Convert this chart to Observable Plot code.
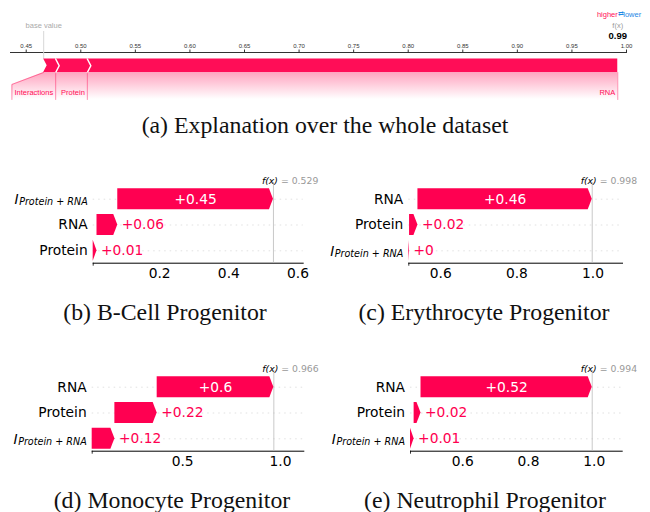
<!DOCTYPE html>
<html><head><meta charset="utf-8">
<script src="https://cdn.jsdelivr.net/npm/d3@7"></script>
<script src="https://cdn.jsdelivr.net/npm/@observablehq/plot@0.6"></script>
<style>
html,body{margin:0;padding:0;background:#fff}
body{width:650px;height:512px;position:relative;overflow:hidden}
.abs{position:absolute}
.cap{font-family:"Liberation Serif","Times New Roman",serif;font-size:23.8px;line-height:26px;color:#111;text-align:center;white-space:nowrap}
svg{overflow:visible}
</style>
</head><body>
<svg width="0" height="0" style="position:absolute">
  <defs>
    <linearGradient id="fgrad" x1="0" y1="0" x2="0" y2="1">
      <stop offset="0" stop-color="#ff0d57" stop-opacity="0.38"/>
      <stop offset="1" stop-color="#ff0d57" stop-opacity="0"/>
    </linearGradient>
  </defs>
</svg>
<div id="root"></div>
<script>
// ---------------- data ----------------
// (a) force plot over the whole dataset
const forceBase = 0.466;
const forceFeatures = ["Interactions", "Protein", "RNA"];
const forceValues = [0.011, 0.029, 0.486];
const forceTicks = [0.45, 0.50, 0.55, 0.60, 0.65, 0.70, 0.75, 0.80, 0.85, 0.90, 0.95, 1.00];

// (b)-(e) waterfall panels; features listed top to bottom
const panelTitles = ["(b) B-Cell Progenitor", "(c) Erythrocyte Progenitor", "(d) Monocyte Progenitor", "(e) Neutrophil Progenitor"];
const panelFx = [0.529, 0.998, 0.966, 0.994];
const featuresB = ["I", "RNA", "Protein"];
const contribB = [0.450, 0.060, 0.011];
const featuresC = ["RNA", "Protein", "I"];
const contribC = [0.458, 0.022, 0.002];
const featuresD = ["RNA", "Protein", "I"];
const contribD = [0.596, 0.216, 0.116];
const featuresE = ["RNA", "Protein", "I"];
const contribE = [0.521, 0.021, 0.011];
const panelTicks = [[0.2, 0.4, 0.6], [0.6, 0.8, 1.0], [0.5, 1.0], [0.6, 0.8, 1.0]];
const interactionSub = "Protein + RNA";

// ---------------- layout / style ----------------
const root = document.getElementById("root");
const ctx = document.createElement("canvas").getContext("2d");
function measure(t, font) { ctx.font = font; return ctx.measureText(t).width; }
function place(el, left, top) { el.classList.add("abs"); el.style.left = left + "px"; el.style.top = top + "px"; root.appendChild(el); }
function caption(text, center, midY) {
  const d = document.createElement("div"); d.className = "cap"; d.textContent = text;
  d.style.width = "400px"; place(d, center - 200, midY - 13);
}

// ---------------- (a) force plot ----------------
{
  const W = 650, H = 105, ML = 10, MR = 24;
  const xDom = [0.4356, 1.0];
  const ppu = (W - ML - MR) / (xDom[1] - xDom[0]);
  const TOP = 58.5, MID = 65.25, BOT = 72, LBL_KNEE = 84, LBL_BOT = 99, LBL_Y = 92;
  const CHEV = 3.5 / ppu;
  const fxA = forceBase + d3.sum(forceValues);
  let acc = forceBase;
  const segs = forceFeatures.map((f, i) => { const s = {feature: f, start: acc, end: acc + forceValues[i]}; acc += forceValues[i]; return s; });
  const LFONT = "7.5px 'Liberation Sans', Arial, sans-serif";
  const firstLeft = Math.min(segs[0].start, segs[0].end - (measure(segs[0].feature, LFONT) + 5) / ppu);

  const barPts = [
    {y: TOP, x1: forceBase, x2: fxA},
    {y: MID, x1: forceBase + CHEV, x2: fxA},
    {y: BOT, x1: forceBase, x2: fxA}
  ];
  const chevPts = segs.slice(0, -1).flatMap(s => [
    {k: s.feature, x: s.end, y: TOP}, {k: s.feature, x: s.end + CHEV, y: MID}, {k: s.feature, x: s.end, y: BOT}
  ]);
  const gradPts = [
    {y: BOT, x1: forceBase, x2: fxA},
    {y: LBL_KNEE, x1: firstLeft, x2: fxA},
    {y: LBL_BOT, x1: firstLeft, x2: fxA}
  ];
  const connPts = [
    {k: "first", x: forceBase, y: BOT}, {k: "first", x: firstLeft, y: LBL_KNEE}, {k: "first", x: firstLeft, y: LBL_BOT},
    ...segs.flatMap(s => [{k: s.feature, x: s.end, y: BOT}, {k: s.feature, x: s.end, y: LBL_BOT}])
  ];

  const p = Plot.plot({
    width: W, height: H, marginLeft: ML, marginRight: MR, marginTop: 52, marginBottom: 0,
    style: {fontFamily: "'Liberation Sans', Arial, sans-serif", fontSize: "6px", background: "transparent", color: "#333"},
    x: {domain: xDom, axis: "top", line: true, ticks: forceTicks, tickFormat: d3.format(".2f"), tickSize: 3.5, tickPadding: 1.5},
    y: {domain: [0, H], range: [0, H], axis: null},
    marks: [
      Plot.ruleX([forceBase], {x: d => d, y1: () => 31, y2: () => TOP, stroke: "#d8d8d8", strokeWidth: 1}),
      Plot.text([forceBase], {x: d => d, y: () => 25, text: () => "base value", fill: "#aaa", fontSize: 7.5}),
      Plot.areaX(gradPts, {x1: "x1", x2: "x2", y: "y", fill: "url(#fgrad)"}),
      Plot.areaX(barPts, {x1: "x1", x2: "x2", y: "y", fill: "#ff0d57"}),
      Plot.line(chevPts, {x: "x", y: "y", z: "k", stroke: "white", strokeWidth: 1.5}),
      Plot.line(connPts, {x: "x", y: "y", z: "k", stroke: "#ff0d57", strokeOpacity: 0.45, strokeWidth: 1}),
      Plot.text(segs, {x: "end", y: () => LBL_Y, text: "feature", textAnchor: "end", dx: -2.5, fill: "#ff0d57", fontSize: 7.5}),
      Plot.text([fxA], {x: d => d, y: () => 14, text: () => "higher", textAnchor: "end", dx: 0, fill: "#ff0d57", fontSize: 7.5}),
      Plot.text([fxA], {x: d => d, y: () => 13.5, text: () => "⇄", textAnchor: "middle", dx: 3, fill: "#1e88e5", fontSize: 7}),
      Plot.text([fxA], {x: d => d, y: () => 14, text: () => "lower", textAnchor: "start", dx: 5.5, fill: "#1e88e5", fontSize: 7.5}),
      Plot.text([fxA], {x: d => d, y: () => 25, text: () => "f(x)", fill: "#999", fontSize: 7.5}),
      Plot.text([fxA], {x: d => d, y: () => 35.5, text: d => d.toFixed(2), fill: "#000", fontSize: 9.5, fontWeight: "bold"})
    ]
  });
  place(p, 0, 0);
  caption("(a) Explanation over the whole dataset", 325, 125);
}

// ---------------- (b)-(e) waterfalls ----------------
const PW = 325, PH = 130;
const Y_RANGE = [38.7, 90.3];
const ROW_PX = (Y_RANGE[1] - Y_RANGE[0]) / 2;
const AXIS_Y = 102.7;
const FS = 13.8, SUB_FS = 9.6, HEAD_PX = 4, X_PAD = 0.165;
const RED = "#ff0051";
const FONT = "'DejaVu Sans', sans-serif";
const layouts = [
  {left: 0, top: 160, ml: 92.7, mr: 22.3, cap: 165},
  {left: 325, top: 160, ml: 83.3, mr: 28, cap: 484},
  {left: 0, top: 348, ml: 91.7, mr: 21.7, cap: 172},
  {left: 325, top: 348, ml: 85, mr: 28.3, cap: 485}
];
const panelFeatures = [featuresB, featuresC, featuresD, featuresE];
const panelContrib = [contribB, contribC, contribD, contribE];

function waterfall(k) {
  const features = panelFeatures[k], contrib = panelContrib[k], fx = panelFx[k], lay = layouts[k];
  const total = d3.sum(contrib);
  const base = fx - total;
  const xDom = [base, fx + X_PAD * total];
  const ppu = (PW - lay.ml - lay.mr) / (xDom[1] - xDom[0]);
  const n = features.length;
  const rows = new Array(n);
  let acc = base;
  for (let i = n - 1; i >= 0; i--) {
    rows[i] = {feature: features[i], value: contrib[i], start: acc, end: acc + contrib[i], row: i};
    acc += contrib[i];
  }
  const HALF = 10.5 / ROW_PX;
  const arrowPts = rows.flatMap(r => {
    const wpx = (r.end - r.start) * ppu;
    const head = Math.min(HEAD_PX, wpx) / ppu;
    return [
      {key: r.feature, y: r.row - HALF, x1: r.start, x2: r.end - head},
      {key: r.feature, y: r.row, x1: r.start, x2: r.end},
      {key: r.feature, y: r.row + HALF, x1: r.start, x2: r.end - head}
    ];
  });
  rows.forEach(r => {
    r.label = "+" + (+r.value.toFixed(2));
    r.inside = measure(r.label, `${FS}px ${FONT}`) + 8 < (r.end - r.start) * ppu;
  });
  const plain = rows.filter(r => r.feature !== "I");
  const inter = rows.filter(r => r.feature === "I");
  const subW = measure(interactionSub, `italic ${SUB_FS}px ${FONT}`);
  const LDX = -5.5;
  const axisRow = (AXIS_Y - Y_RANGE[0]) / ROW_PX;

  const p = Plot.plot({
    width: PW, height: PH, marginLeft: lay.ml, marginRight: lay.mr, marginTop: 22, marginBottom: PH - AXIS_Y,
    style: {fontFamily: FONT, fontSize: FS + "px", background: "transparent", color: "#000"},
    x: {domain: xDom, ticks: panelTicks[k], tickFormat: d3.format(".1f"), tickSize: 0, tickPadding: 5, line: true},
    y: {domain: [0, 2], range: Y_RANGE, axis: null},
    marks: [
      Plot.ruleY(rows, {y: "row", stroke: "#cccccc", strokeWidth: 0.6, strokeDasharray: "1.5,4"}),
      Plot.ruleX([fx], {x: d => d, stroke: "#bbbbbb", strokeWidth: 0.8}),
      Plot.ruleX([base], {x: d => d, y1: () => axisRow, y2: () => axisRow + 3 / ROW_PX, stroke: "#000", strokeWidth: 0.8}),
      Plot.areaX(arrowPts, {x1: "x1", x2: "x2", y: "y", z: "key", fill: RED}),
      Plot.text(rows.filter(r => r.inside), {x: r => (r.start + r.end) / 2, y: "row", text: "label", fill: "white", fontSize: FS}),
      Plot.text(rows.filter(r => !r.inside), {x: "end", y: "row", text: "label", fill: RED, textAnchor: "start", dx: 4, fontSize: FS}),
      Plot.text(plain, {frameAnchor: "left", y: "row", text: "feature", textAnchor: "end", dx: LDX, fontSize: FS}),
      Plot.text(inter, {frameAnchor: "left", y: "row", text: () => interactionSub, textAnchor: "end", dx: LDX, dy: 3, fontSize: SUB_FS, fontStyle: "italic"}),
      Plot.text(inter, {frameAnchor: "left", y: "row", text: () => "I", textAnchor: "end", dx: LDX - subW - 0.5, dy: 0.5, fontSize: FS, fontStyle: "italic"}),
      Plot.text([fx], {x: d => d, frameAnchor: "top", dy: -5, text: () => "f(x)", textAnchor: "end", dx: 4.5, fontStyle: "italic", fontSize: 9.3, fill: "#000"}),
      Plot.text([fx], {x: d => d, frameAnchor: "top", dy: -5, text: d => "= " + d.toFixed(3), textAnchor: "start", dx: 7.5, fontSize: 9.3, fill: "#999"})
    ]
  });
  place(p, lay.left, lay.top);
  caption(panelTitles[k], lay.cap, lay.top + 152);
}
[0, 1, 2, 3].forEach(waterfall);
</script>
</body></html>
